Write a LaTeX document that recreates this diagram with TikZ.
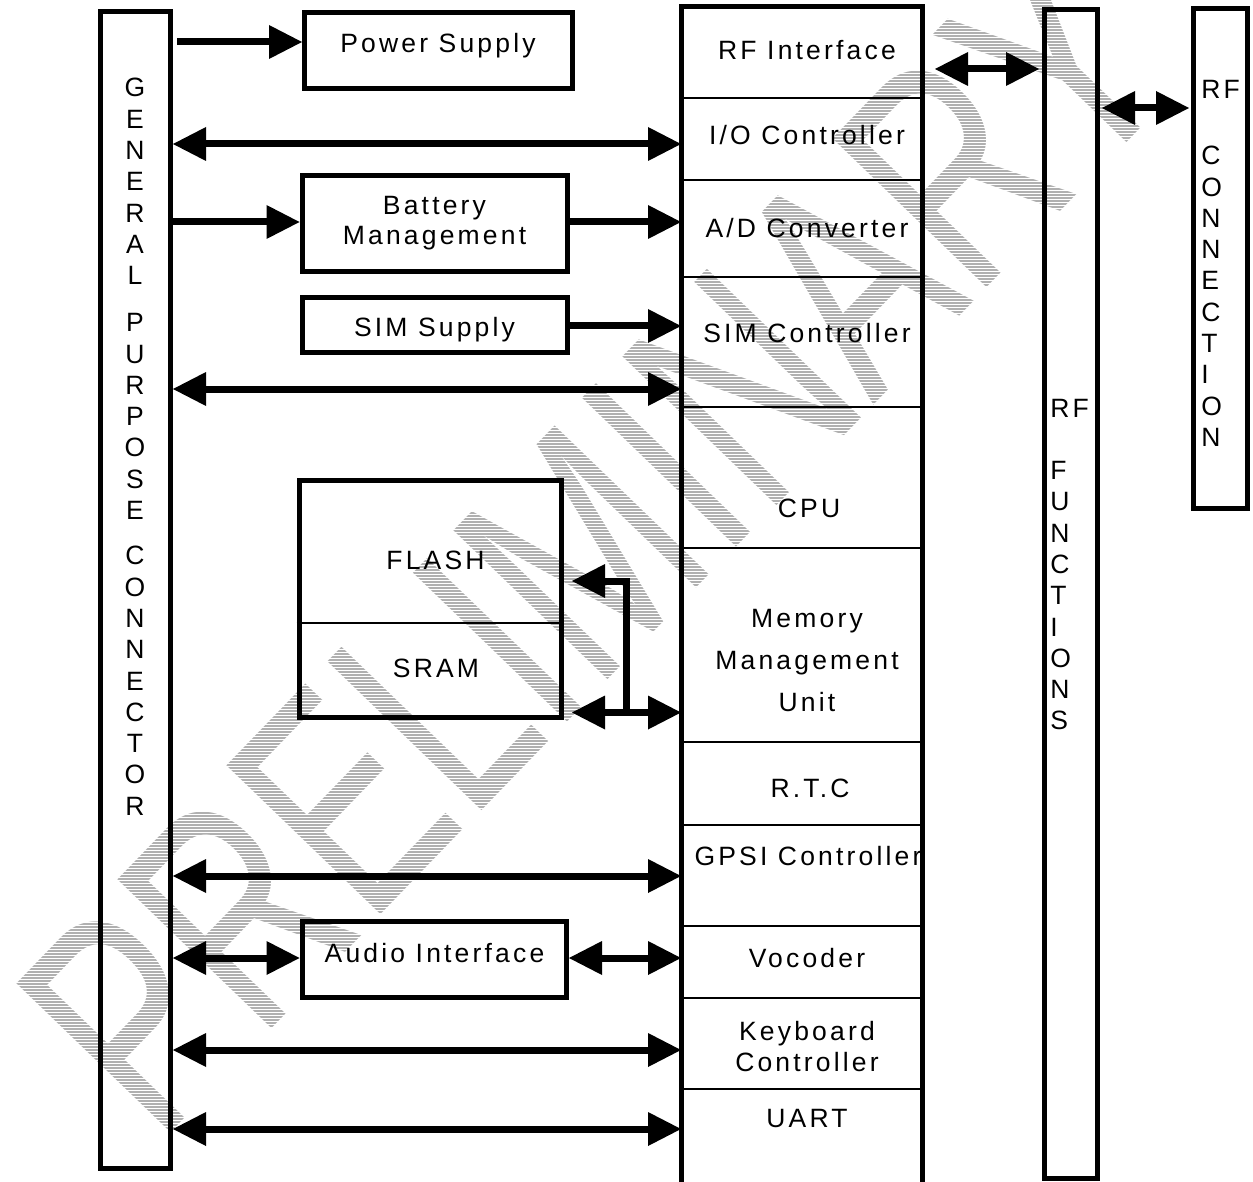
\documentclass[tikz,border=0pt]{standalone}
\usepackage{fontspec}
\setmainfont{Liberation Sans}[LetterSpace=12]
\newfontfamily\wmfont{Liberation Sans}
\usetikzlibrary{arrows.meta,fit}
\newcommand{\lblfont}{\fontsize{13.25}{15.65}\selectfont}
\begin{document}
\begin{tikzpicture}[x=0.5pt,y=-0.5pt,
  box/.style={draw, line width=2.5pt, inner sep=0pt},
  rowbox/.style={draw, line width=1pt, inner sep=0pt},
  lbl/.style={inner sep=0pt, font=\lblfont, anchor=base},
  mlbl/.style={inner sep=0pt, font=\lblfont, align=center, anchor=north},
  vlbl/.style={inner sep=0pt, font=\lblfont},
  wm/.style={inner sep=0pt, text=gray!62, rotate=46, anchor=base west, font=\wmfont\fontsize{155.7}{160}\selectfont},
  hatch/.style={white, line width=0.75pt},
  arr/.style={line width=3.5pt, -{Triangle[length=16.5pt,width=17pt,line width=0pt]}},
  dbl/.style={line width=3.5pt, {Triangle[length=16.5pt,width=17pt,line width=0pt]}-{Triangle[length=16.5pt,width=17pt,line width=0pt]}}
]
\fill[white] (0,0) rectangle (1253,1182);
\useasboundingbox (0,0) rectangle (1253,1182);

% watermark (hatched letters)
\foreach \ch/\c [count=\i] in {P/0,R/0.667,E/1.389,L/2.056,I/2.612,M/2.890,I/3.723,N/4.001,A/4.723,R/5.390,Y/6.112}
  \node[wm] (wm\i) at ({158+\c*151.45},{1146-\c*156.8}) {\scalebox{0.70}[1]{\ch}};
\foreach \k in {0,...,394}
  \draw[hatch] (0,{3*\k+1.5}) -- (1253,{3*\k+1.5});

% left connector
\node[box, fit={(100.5,12) (170.5,1168.5)}] (gpc) {};
\node[vlbl, align=center, anchor=north] (gpct) at (135,78)
  {G\\E\\N\\E\\R\\A\\L\\[7.85pt]P\\U\\R\\P\\O\\S\\E\\[7pt]C\\O\\N\\N\\E\\C\\T\\O\\R};

% side boxes
\node[box, fit={(304.5,12.5) (572.5,89)}] (ps) {};
\node[lbl] (pst) at (438,53) {Power Supply};
\node[box, fit={(302,176) (567,271.5)}] (bm) {};
\node[mlbl] (bmt) at (434.5,196) {Battery\\[-0.65pt]Management};
\node[box, fit={(302,297.5) (567,352)}] (ss) {};
\node[lbl] (sst) at (434.5,336) {SIM Supply};
\node[box, fit={(299,480.5) (561.5,717)}] (fs) {};
\draw[line width=1pt] (fs.west |- 0,623) -- (fs.east |- 0,623);
\node[lbl] (flt) at (435.5,569) {FLASH};
\node[lbl] (srt) at (436,677) {SRAM};
\node[box, fit={(302,921) (566.5,997)}] (ai) {};
\node[lbl] (ait) at (434.5,962) {Audio Interface};

% central column rows
\node[rowbox, fit={(682,8) (921.5,98.5)}] (rfi) {};
\node[rowbox, fit={(682,98.5) (921.5,180.5)}] (io) {};
\node[rowbox, fit={(682,180.5) (921.5,277.5)}] (ad) {};
\node[rowbox, fit={(682,277.5) (921.5,407)}] (sim) {};
\node[rowbox, fit={(682,407) (921.5,548)}] (cpu) {};
\node[rowbox, fit={(682,548) (921.5,742)}] (mmu) {};
\node[rowbox, fit={(682,742) (921.5,825)}] (rtc) {};
\node[rowbox, fit={(682,825) (921.5,926)}] (gpsi) {};
\node[rowbox, fit={(682,926) (921.5,998)}] (voc) {};
\node[rowbox, fit={(682,998) (921.5,1089)}] (kb) {};
\node[rowbox, fit={(682,1089) (921.5,1200)}] (uart) {};
\draw[line width=2.5pt] (uart.south west) -- (rfi.north west) -- (rfi.north east) -- (uart.south east);

\node[lbl] (rfit) at (807,60) {RF Interface};
\node[lbl] (iot) at (807,145) {I/O Controller};
\node[lbl] (adt) at (807,238) {A/D Converter};
\node[lbl] (simt) at (807,343) {SIM Controller};
\node[lbl] (cput) at (809,517) {CPU};
\node[mlbl] (mmut) at (807,609) {Memory\\[5.35pt]Management\\[5.35pt]Unit};
\node[lbl] (rtct) at (810,797) {R.T.C};
\node[lbl] (gpsit) at (808,865) {GPSI Controller};
\node[lbl] (voct) at (807,967) {Vocoder};
\node[mlbl] (kbt) at (807,1021) {Keyboard\\Controller};
\node[lbl] (uartt) at (807,1127) {UART};

% RF functions and RF connection
\node[box, fit={(1044.5,9.5) (1097.5,1178)}] (rff) {};
\node[vlbl, align=left, anchor=north west] (rfft) at (1050,399)
  {RF\\[15.3pt]F\\U\\N\\C\\T\\I\\O\\N\\S};
\node[box, fit={(1193.5,8.5) (1247.5,508)}] (rfc) {};
\node[vlbl, align=left, anchor=north west] (rfct) at (1201,80)
  {RF\\[17.4pt]C\\O\\N\\N\\E\\C\\T\\I\\O\\N};

% connectors
\draw[arr] ([xshift=2pt]gpc.east |- 0,42) -- (ps.west |- 0,42);
\draw[dbl] (gpc.east |- 0,144) -- (io.west |- 0,144);
\draw[arr] (gpc.east |- 0,222) -- (bm.west |- 0,222);
\draw[arr] (bm.east |- 0,222) -- (ad.west |- 0,222);
\draw[arr] (ss.east |- 0,326) -- (sim.west |- 0,326);
\draw[dbl] (gpc.east |- 0,389) -- (sim.west |- 0,389);

\coordinate (fse) at ([xshift=4pt]fs.east);
\coordinate (j1) at (626,712.5);
\coordinate (j2) at (626,581);
\draw[dbl] (fse |- j1) -- (mmu.west |- j1);
\draw[arr, line join=miter] (j1) -- (j2) -- (fse |- j2);

\draw[dbl] (gpc.east |- 0,876) -- (gpsi.west |- 0,876);
\draw[dbl] (gpc.east |- 0,958) -- (ai.west |- 0,958);
\draw[dbl] (ai.east |- 0,958) -- (voc.west |- 0,958);
\draw[dbl] (gpc.east |- 0,1050) -- (kb.west |- 0,1050);
\draw[dbl] (gpc.east |- 0,1129) -- (uart.west |- 0,1129);

\coordinate (rfie) at ([xshift=6.25pt]rfi.east);
\draw[dbl] (rfie |- 0,69) -- ([xshift=-1.5pt]rff.west |- 0,69);
\draw[dbl] ([xshift=1pt]rff.east |- 0,108) -- ([xshift=-1pt]rfc.west |- 0,108);
\end{tikzpicture}
\end{document}
